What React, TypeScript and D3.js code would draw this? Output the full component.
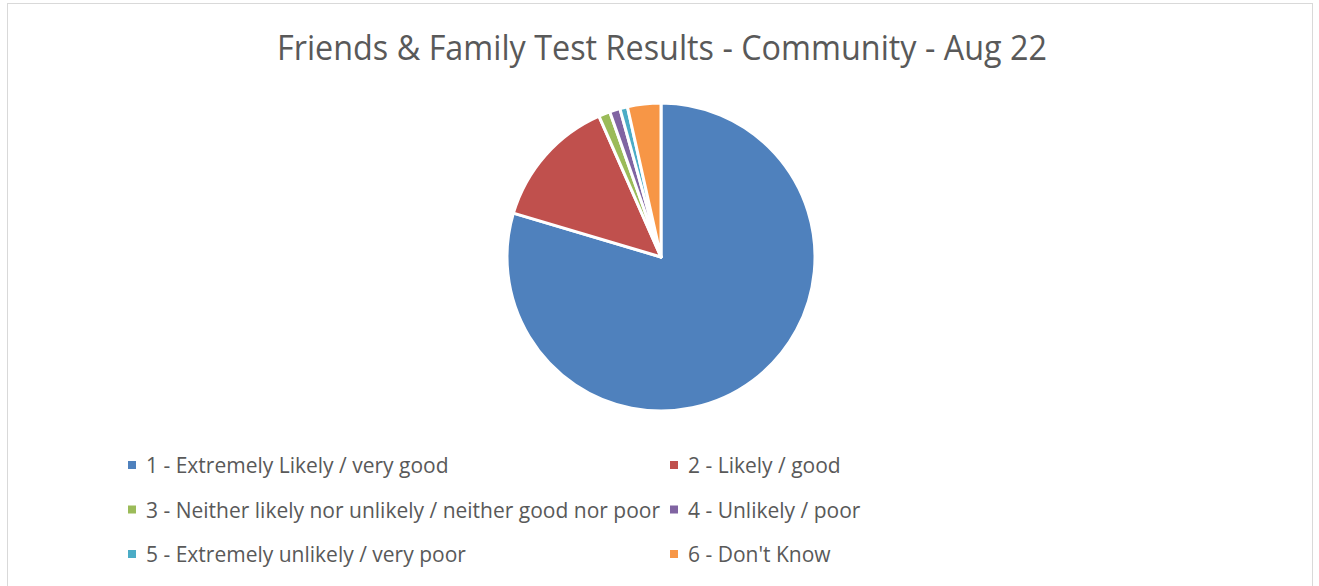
import React from "react";
import * as d3 from "d3";

const categories = [
  "1 - Extremely Likely / very good",
  "2 - Likely / good",
  "3 - Neither likely nor unlikely / neither good nor poor",
  "4 - Unlikely / poor",
  "5 - Extremely unlikely / very poor",
  "6 - Don't Know",
];
const values = [79.6, 13.8, 1.2, 1.1, 0.8, 3.5];
const colors = ["#4f81bd", "#c0504d", "#9bbb59", "#8064a2", "#4bacc6", "#f79646"];
const title = "Friends & Family Test Results - Community - Aug 22";

const W = 1319;
const H = 586;

const App = () => {
  const cx = 661;
  const cy = 257;
  const r = 154;

  const pie = d3.pie<number>().sort(null).value((d) => d);
  const arcs = pie(values);
  const arc = d3.arc<d3.PieArcDatum<number>>().innerRadius(0).outerRadius(r);

  // legend: 2 columns, 3 rows
  const colX = d3.scaleOrdinal<number, number>().domain([0, 1]).range([128, 670]);
  const rowY = d3.scaleLinear().domain([0, 2]).range([465, 554]);

  return (
    <svg
      width={W}
      height={H}
      style={{ position: "absolute", left: 0, top: 0, background: "#fff" }}
      fontFamily="'Open Sans', 'Noto Sans', sans-serif"
    >
      <rect x={7.5} y={3.5} width={1305} height={H + 10} fill="#fff" stroke="#d9d9d9" strokeWidth={1} />
      <text
        x={277}
        y={60}
        fontSize={35}
        fill="#595959"
        textLength={770}
        lengthAdjust="spacingAndGlyphs"
      >
        {title}
      </text>
      <g transform={`translate(${cx},${cy})`}>
        {arcs.map((a, i) => (
          <path key={i} d={arc(a) || ""} fill={colors[i]} stroke="#fff" strokeWidth={3} strokeLinejoin="round" />
        ))}
      </g>
      <g>
        {categories.map((c, i) => {
          const x = colX(i % 2);
          const y = rowY(Math.floor(i / 2));
          return (
            <g key={i}>
              <rect x={x} y={y - 4} width={8} height={8} fill={colors[i]} />
              <text x={x + 18} y={y + 8} fontSize={21} fill="#595959">
                {c}
              </text>
            </g>
          );
        })}
      </g>
    </svg>
  );
};

export default App;
